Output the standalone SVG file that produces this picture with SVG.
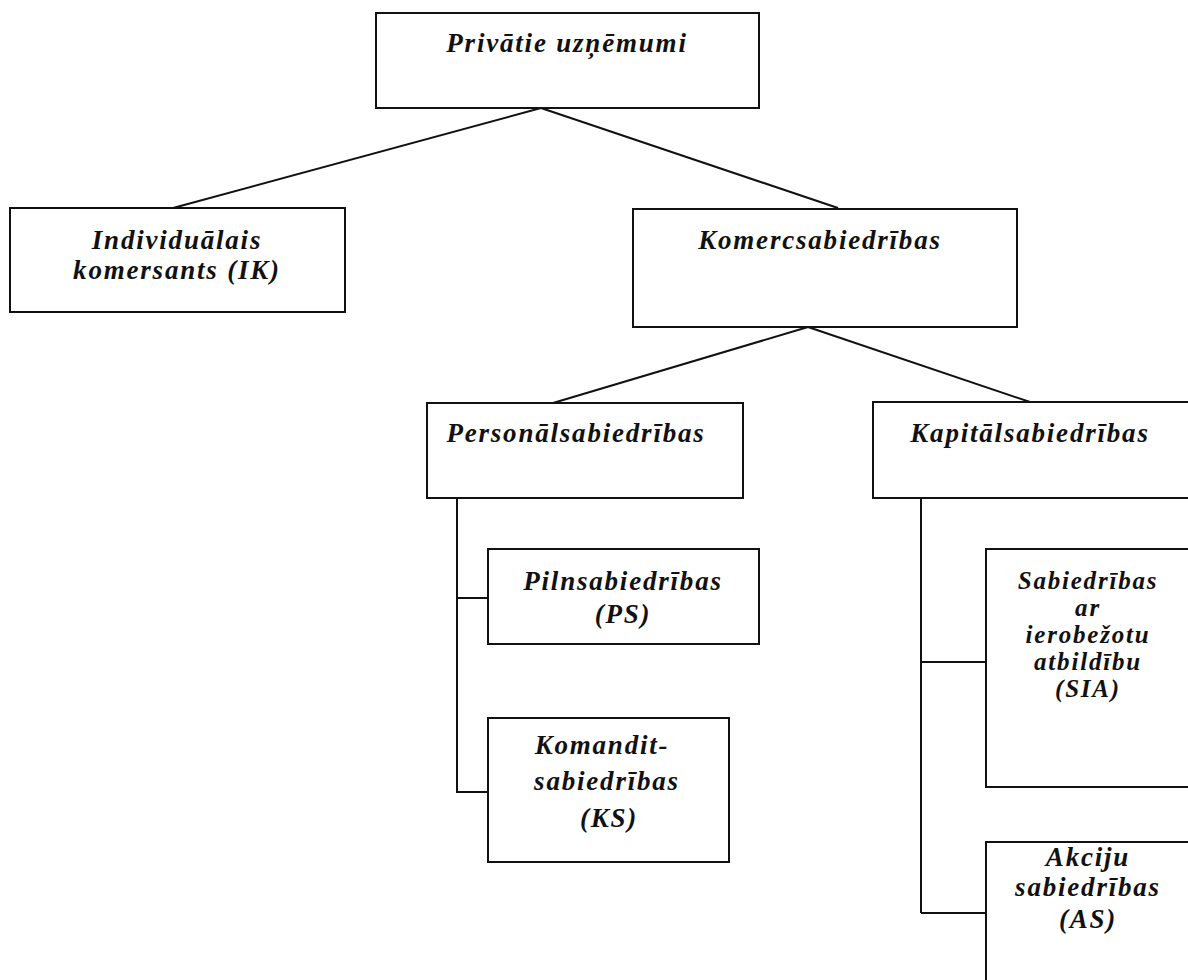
<svg xmlns="http://www.w3.org/2000/svg" width="1188" height="980" viewBox="0 0 1188 980">
  <style>
    .box { fill: #ffffff; stroke: #111111; stroke-width: 2; }
    .link { fill: none; stroke: #111111; stroke-width: 2; }
    .lbl { font-family: "Liberation Serif", "Times New Roman", serif; font-style: italic; font-weight: bold; font-size: 27px; letter-spacing: 1.8px; fill: #111111; text-anchor: middle; }
    .tight { font-size: 25px; }
  </style>
  <rect width="1188" height="980" fill="#ffffff"/>

  <!-- connectors -->
  <g id="connectors">
    <line class="link" x1="541" y1="108" x2="173" y2="208"/>
    <line class="link" x1="541" y1="108" x2="838" y2="208"/>
    <line class="link" x1="808" y1="327" x2="553" y2="403"/>
    <line class="link" x1="808" y1="327" x2="1030" y2="402"/>
    <polyline class="link" points="457,498 457,793"/>
    <line class="link" x1="457" y1="598" x2="488" y2="598"/>
    <line class="link" x1="457" y1="792" x2="488" y2="792"/>
    <polyline class="link" points="921,498 921,913"/>
    <line class="link" x1="921" y1="662" x2="986" y2="662"/>
    <line class="link" x1="921" y1="913" x2="986" y2="913"/>
  </g>

  <g id="privatie">
    <rect class="box" x="376" y="13" width="383" height="95"/>
    <text class="lbl" x="567" y="52">Privātie uzņēmumi</text>
  </g>

  <g id="ik">
    <rect class="box" x="10" y="208" width="335" height="104"/>
    <text class="lbl" x="177" y="249">Individuālais</text>
    <text class="lbl" x="177" y="279">komersants (IK)</text>
  </g>

  <g id="komercsabiedribas">
    <rect class="box" x="633" y="209" width="384" height="118"/>
    <text class="lbl" x="820" y="249">Komercsabiedrības</text>
  </g>

  <g id="personalsabiedribas">
    <rect class="box" x="427" y="403" width="316" height="95"/>
    <text class="lbl" x="576" y="442">Personālsabiedrības</text>
  </g>

  <g id="kapitalsabiedribas">
    <rect class="box" x="873" y="402" width="330" height="96"/>
    <text class="lbl" x="1030" y="442">Kapitālsabiedrības</text>
  </g>

  <g id="ps">
    <rect class="box" x="488" y="549" width="271" height="95"/>
    <text class="lbl" x="623" y="590">Pilnsabiedrības</text>
    <text class="lbl" x="623" y="623">(PS)</text>
  </g>

  <g id="ks">
    <rect class="box" x="488" y="718" width="241" height="144"/>
    <text class="lbl" x="602" y="754">Komandit-</text>
    <text class="lbl" x="607" y="790">sabiedrības</text>
    <text class="lbl" x="609" y="827">(KS)</text>
  </g>

  <g id="sia">
    <rect class="box" x="986" y="549" width="217" height="238"/>
    <text class="lbl tight" x="1088" y="589">Sabiedrības</text>
    <text class="lbl tight" x="1088" y="616">ar</text>
    <text class="lbl tight" x="1088" y="643">ierobežotu</text>
    <text class="lbl tight" x="1088" y="670">atbildību</text>
    <text class="lbl tight" x="1088" y="697">(SIA)</text>
  </g>

  <g id="as">
    <rect class="box" x="986" y="842" width="217" height="160"/>
    <text class="lbl" x="1088" y="866">Akciju</text>
    <text class="lbl" x="1088" y="896">sabiedrības</text>
    <text class="lbl" x="1088" y="928">(AS)</text>
  </g>
</svg>
